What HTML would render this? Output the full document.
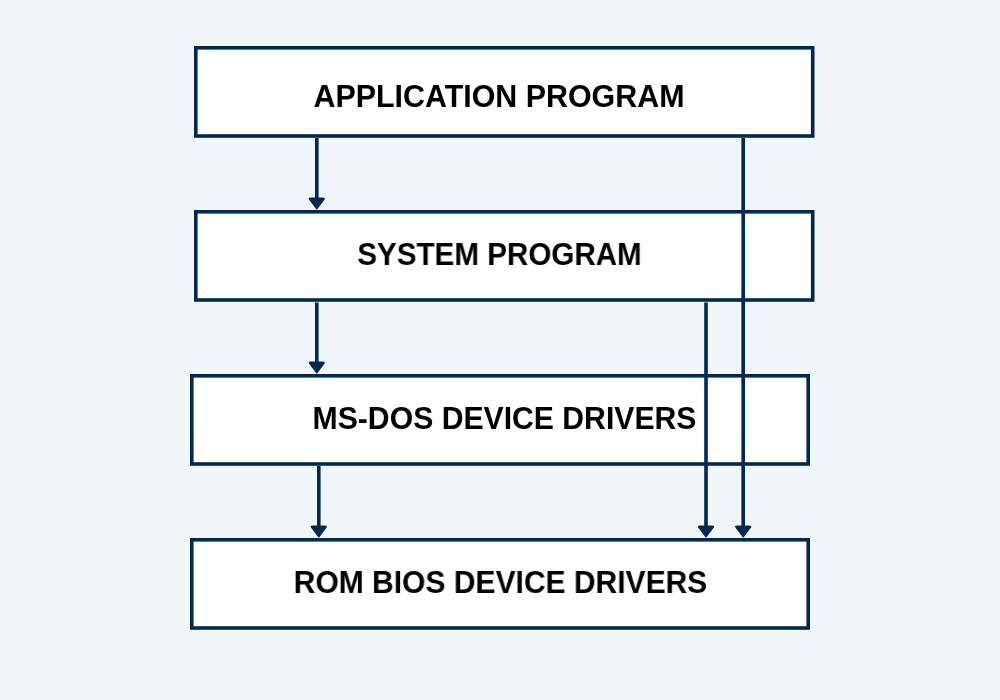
<!DOCTYPE html>
<html><head><meta charset="utf-8">
<style>
html,body{margin:0;padding:0;width:1000px;height:700px;overflow:hidden;background:#f1f6fb;}
svg{position:absolute;left:0;top:0;display:block;will-change:transform}
text{font-family:"Liberation Sans",sans-serif;font-weight:bold;font-size:32px;fill:#000}
</style></head><body>
<svg width="1000" height="700" viewBox="0 0 1000 700">
<g fill="#fff" stroke="#002851" stroke-width="3.6">
<rect x="195.8" y="47.8" width="616.9" height="88.2"/>
<rect x="195.8" y="211.8" width="616.9" height="88.2"/>
<rect x="191.8" y="375.8" width="616.4" height="88.2"/>
<rect x="191.8" y="539.8" width="616.4" height="88.2"/>
</g>
<text transform="translate(499 107) scale(0.950 1)" text-anchor="middle">APPLICATION PROGRAM</text>
<text transform="translate(499.5 265) scale(0.925 1)" text-anchor="middle">SYSTEM PROGRAM</text>
<text transform="translate(504.5 429) scale(0.943 1)" text-anchor="middle">MS-DOS DEVICE DRIVERS</text>
<text transform="translate(500.5 593) scale(0.938 1)" text-anchor="middle">ROM BIOS DEVICE DRIVERS</text>
<g stroke="#002851" stroke-width="3.6" fill="none">
<line x1="316.8" y1="138" x2="316.8" y2="200"/>
<line x1="316.8" y1="302.5" x2="316.8" y2="364"/>
<line x1="318.8" y1="466" x2="318.8" y2="528"/>
<line x1="706" y1="302.5" x2="706" y2="528"/>
<line x1="743.2" y1="138" x2="743.2" y2="528"/>
</g>
<g fill="#002851">
<path d="M310.80 197.50 L322.80 197.50 C324.90 197.50 325.40 198.40 324.50 199.80 L317.50 209.10 Q316.80 210.10 316.10 209.10 L309.10 199.80 C308.20 198.40 308.70 197.50 310.80 197.50 Z"/>
<path d="M310.80 361.50 L322.80 361.50 C324.90 361.50 325.40 362.40 324.50 363.80 L317.50 373.10 Q316.80 374.10 316.10 373.10 L309.10 363.80 C308.20 362.40 308.70 361.50 310.80 361.50 Z"/>
<path d="M312.80 525.50 L324.80 525.50 C326.90 525.50 327.40 526.40 326.50 527.80 L319.50 537.10 Q318.80 538.10 318.10 537.10 L311.10 527.80 C310.20 526.40 310.70 525.50 312.80 525.50 Z"/>
<path d="M700.00 525.50 L712.00 525.50 C714.10 525.50 714.60 526.40 713.70 527.80 L706.70 537.10 Q706.00 538.10 705.30 537.10 L698.30 527.80 C697.40 526.40 697.90 525.50 700.00 525.50 Z"/>
<path d="M737.20 525.50 L749.20 525.50 C751.30 525.50 751.80 526.40 750.90 527.80 L743.90 537.10 Q743.20 538.10 742.50 537.10 L735.50 527.80 C734.60 526.40 735.10 525.50 737.20 525.50 Z"/>
</g>
</svg>
</body></html>
